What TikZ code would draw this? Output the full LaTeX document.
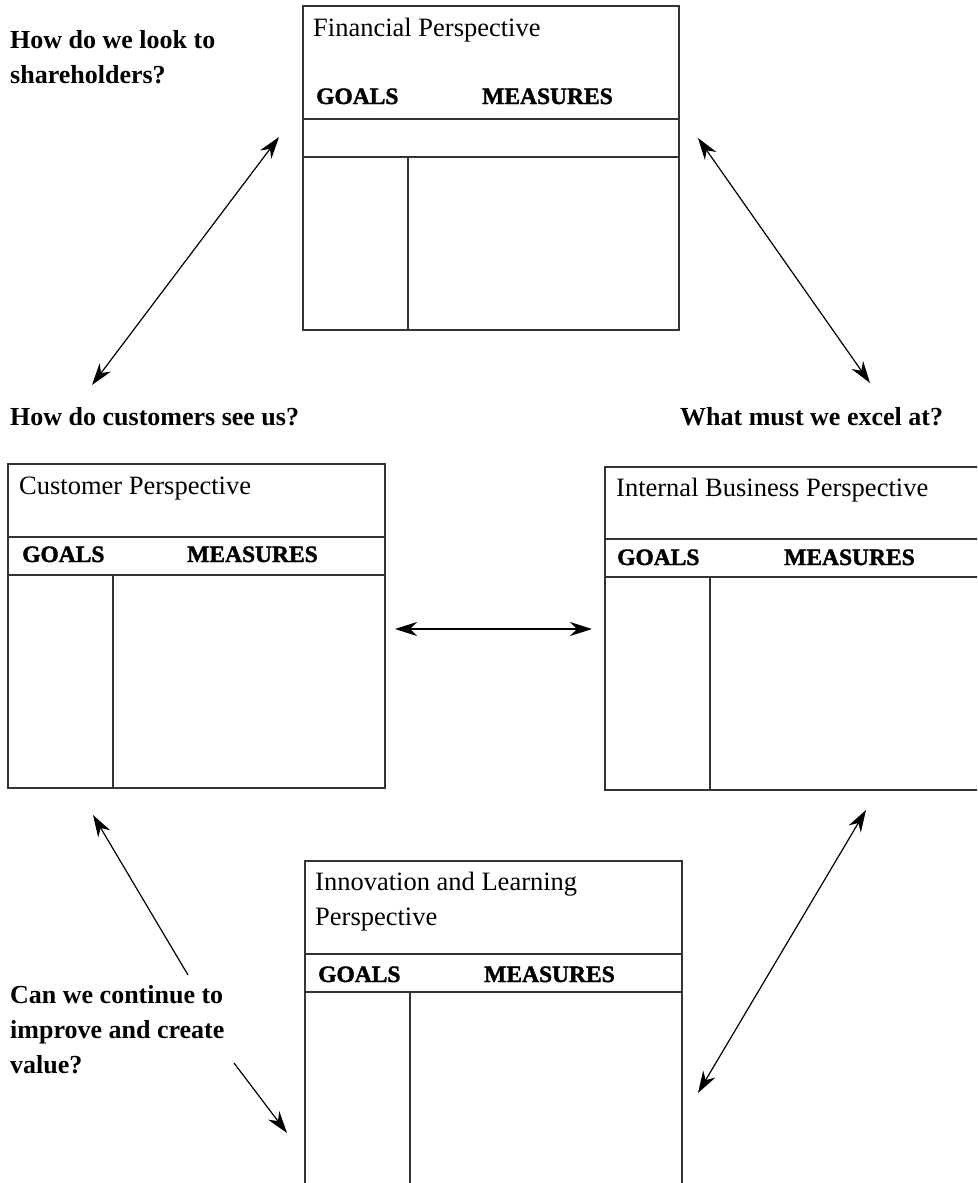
\documentclass[tikz,border=0pt]{standalone}
\usepackage{fontspec}
\setmainfont{Liberation Serif}
\newfontfamily\headfont{Liberation Serif}[BoldFeatures={FakeBold=1.6}]
\usetikzlibrary{arrows.meta}

\tikzset{
  frame/.style={draw=black!80, line width=1.5pt},
  rule/.style={draw=black!80, line width=1.5pt},
  tip/.style={},
  link/.style={draw=black, line width=1.2pt,
    {Stealth[length=22pt,width=14pt,inset=7pt]}-{Stealth[length=22pt,width=14pt,inset=7pt]}},
  onelink/.style={draw=black, line width=1.2pt,
    -{Stealth[length=22pt,width=14pt,inset=7pt]}},
  boxtitle/.style={anchor=base west, inner sep=0pt, font=\fontsize{26.5}{30}\selectfont},
  colhead/.style={anchor=base west, inner sep=0pt, font=\fontsize{23.5}{28}\selectfont\headfont\bfseries},
  question/.style={anchor=base west, inner sep=0pt, font=\fontsize{26}{30}\selectfont\bfseries}
}

\begin{document}
\begin{tikzpicture}[x=1pt, y=-1pt]
\useasboundingbox (0,0) rectangle (977,1183);
\clip (0,0) rectangle (977,1183);

% Financial perspective card
\draw[frame] (303,6) rectangle (679,330);
\draw[rule] (303,119) -- (679,119);
\draw[rule] (303,157) -- (679,157);
\draw[rule] (408,157) -- (408,330);
\node[boxtitle] (fin-t) at (313,36) {Financial Perspective};
\node[colhead] (fin-g) at (316,104) {GOALS};
\node[colhead] (fin-m) at (482,104) {MEASURES};

% Customer perspective card
\draw[frame] (8,464) rectangle (385,788);
\draw[rule] (8,537) -- (385,537);
\draw[rule] (8,575) -- (385,575);
\draw[rule] (113,575) -- (113,788);
\node[boxtitle] (cus-t) at (19,494) {Customer Perspective};
\node[colhead] (cus-g) at (22,562) {GOALS};
\node[colhead] (cus-m) at (187,562) {MEASURES};

% Internal business perspective card (runs past the right edge)
\draw[frame] (605,467) rectangle (995,790);
\draw[rule] (605,539) -- (995,539);
\draw[rule] (605,577) -- (995,577);
\draw[rule] (710,577) -- (710,790);
\node[boxtitle] (int-t) at (616,496) {Internal Business Perspective};
\node[colhead] (int-g) at (617,565) {GOALS};
\node[colhead] (int-m) at (784,565) {MEASURES};

% Innovation and learning perspective card (runs past the bottom edge)
\draw[frame] (305,861) rectangle (682,1200);
\draw[rule] (305,954) -- (682,954);
\draw[rule] (305,992) -- (682,992);
\draw[rule] (410,992) -- (410,1200);
\node[boxtitle] (inn-t1) at (315,890) {Innovation and Learning};
\node[boxtitle] (inn-t2) at (315,925) {Perspective};
\node[colhead] (inn-g) at (318,982) {GOALS};
\node[colhead] (inn-m) at (484,982) {MEASURES};

% Guiding questions
\node[question] (q1a) at (10,48) {How do we look to};
\node[question] (q1b) at (10,83) {shareholders?};
\node[question] (q2) at (10,425) {How do customers see us?};
\node[question] (q3) at (680,425) {What must we excel at?};
\node[question] (q4a) at (10,1003) {Can we continue to};
\node[question] (q4b) at (10,1038) {improve and create};
\node[question] (q4c) at (10,1073) {value?};

% Arrow end points
\coordinate (a1s) at (92,385);
\coordinate (a1e) at (279,137);
\coordinate (a2s) at (698,138);
\coordinate (a2e) at (870,383);
\coordinate (a3s) at (395,629);
\coordinate (a3e) at (592,629);
\coordinate (a4s) at (188,975);
\coordinate (a4e) at (93,815);
\coordinate (a5s) at (234,1063);
\coordinate (a5e) at (287,1133);
\coordinate (a6s) at (866,810);
\coordinate (a6e) at (698,1093);

% Links between perspectives
\draw[link] (a1s) -- (a1e);
\draw[link] (a2s) -- (a2e);
\draw[link] (a3s) -- (a3e);
\draw[onelink] (a4s) -- (a4e);
\draw[onelink] (a5s) -- (a5e);
\draw[link] (a6s) -- (a6e);
\end{tikzpicture}
\end{document}
